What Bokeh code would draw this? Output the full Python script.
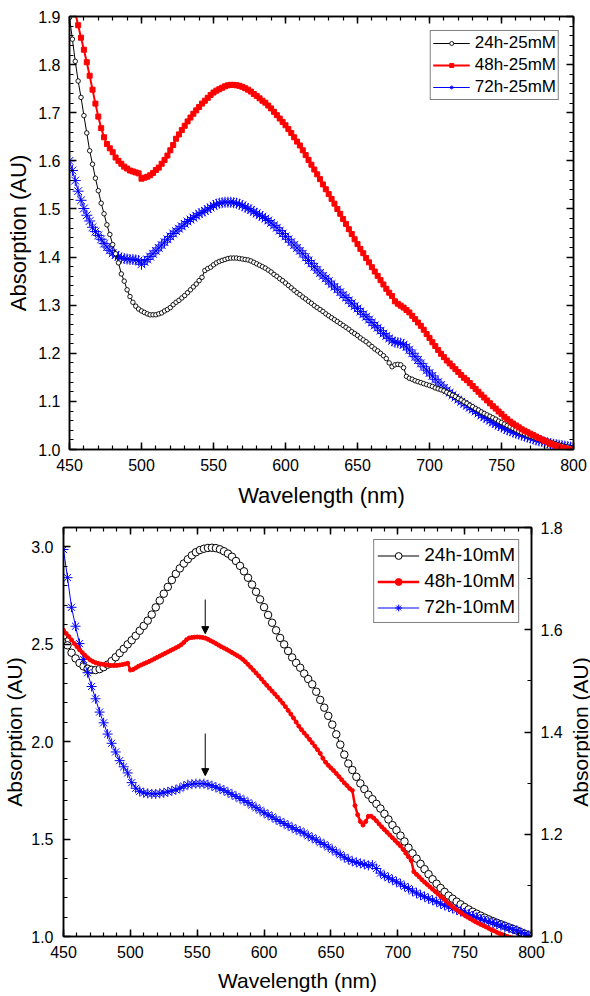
from bokeh.plotting import figure
from bokeh.models import (Range1d, LinearAxis, SingleIntervalTicker, PrintfTickFormatter, FixedTicker,
                          CustomJSTickFormatter, Legend, LegendItem, Arrow, NormalHead)
from bokeh.layouts import column, row
from bokeh.embed import file_html
from bokeh.resources import INLINE

FONT = "Liberation Sans"

# ---------------- data: top panel (25 mM), 2 nm steps from 450 nm ----------------
TOP_START, TOP_STEP = 450, 2
top_24h = [
    1.898, 1.853, 1.807, 1.766, 1.732, 1.694, 1.658, 1.621, 1.593, 1.564,
    1.538, 1.512, 1.490, 1.467, 1.447, 1.426, 1.407, 1.388, 1.365, 1.350,
    1.332, 1.318, 1.306, 1.298, 1.292, 1.288, 1.285, 1.282, 1.280, 1.280,
    1.280, 1.282, 1.284, 1.288, 1.291, 1.295, 1.301, 1.306, 1.310, 1.315,
    1.320, 1.326, 1.332, 1.338, 1.344, 1.351, 1.358, 1.372, 1.376, 1.379,
    1.384, 1.388, 1.391, 1.393, 1.395, 1.397, 1.398, 1.398, 1.398, 1.397,
    1.396, 1.395, 1.394, 1.392, 1.389, 1.386, 1.383, 1.380, 1.377, 1.373,
    1.369, 1.364, 1.360, 1.355, 1.351, 1.346, 1.341, 1.336, 1.331, 1.326,
    1.322, 1.317, 1.313, 1.308, 1.304, 1.299, 1.295, 1.291, 1.287, 1.282,
    1.278, 1.274, 1.270, 1.266, 1.262, 1.258, 1.254, 1.250, 1.245, 1.241,
    1.237, 1.232, 1.228, 1.224, 1.219, 1.214, 1.209, 1.205, 1.200, 1.195,
    1.189, 1.180, 1.172, 1.176, 1.177, 1.176, 1.170, 1.152, 1.148, 1.146,
    1.143, 1.141, 1.139, 1.137, 1.135, 1.133, 1.131, 1.128, 1.126, 1.124,
    1.122, 1.119, 1.116, 1.113, 1.110, 1.106, 1.103, 1.099, 1.096, 1.092,
    1.089, 1.085, 1.082, 1.078, 1.075, 1.072, 1.069, 1.066, 1.063, 1.059,
    1.056, 1.053, 1.050, 1.047, 1.044, 1.041, 1.038, 1.035, 1.033, 1.030,
    1.028, 1.026, 1.024, 1.022, 1.020, 1.018, 1.016, 1.015, 1.013, 1.011,
    1.009, 1.008, 1.006, 1.005, 1.003, 1.002,
]
top_48h = [
    1.970, 1.940, 1.908, 1.882, 1.856, 1.831, 1.805, 1.777, 1.748, 1.719,
    1.692, 1.668, 1.649, 1.635, 1.626, 1.618, 1.607, 1.600, 1.594, 1.588,
    1.584, 1.580, 1.578, 1.576, 1.574, 1.563, 1.565, 1.567, 1.570, 1.575,
    1.581, 1.586, 1.594, 1.602, 1.611, 1.622, 1.633, 1.646, 1.655, 1.664,
    1.673, 1.682, 1.690, 1.698, 1.705, 1.712, 1.719, 1.725, 1.731, 1.737,
    1.742, 1.746, 1.749, 1.752, 1.755, 1.757, 1.758, 1.758, 1.757, 1.756,
    1.754, 1.751, 1.748, 1.744, 1.739, 1.735, 1.730, 1.725, 1.721, 1.715,
    1.709, 1.702, 1.695, 1.688, 1.681, 1.674, 1.666, 1.658, 1.649, 1.640,
    1.632, 1.622, 1.612, 1.602, 1.592, 1.582, 1.572, 1.562, 1.551, 1.541,
    1.531, 1.521, 1.511, 1.500, 1.490, 1.479, 1.469, 1.458, 1.448, 1.437,
    1.427, 1.417, 1.408, 1.398, 1.389, 1.379, 1.370, 1.361, 1.352, 1.343,
    1.334, 1.326, 1.319, 1.308, 1.303, 1.299, 1.295, 1.290, 1.285, 1.278,
    1.271, 1.264, 1.257, 1.249, 1.240, 1.232, 1.223, 1.215, 1.207, 1.199,
    1.192, 1.185, 1.179, 1.173, 1.167, 1.161, 1.155, 1.149, 1.144, 1.138,
    1.132, 1.126, 1.120, 1.114, 1.108, 1.102, 1.096, 1.090, 1.085, 1.079,
    1.074, 1.068, 1.063, 1.058, 1.054, 1.050, 1.046, 1.042, 1.039, 1.036,
    1.033, 1.030, 1.027, 1.024, 1.021, 1.018, 1.015, 1.012, 1.010, 1.008,
    1.006, 1.004, 1.003, 1.001, 1.000, 0.999,
]
top_72h = [
    1.600, 1.580, 1.559, 1.537, 1.518, 1.501, 1.487, 1.475, 1.462, 1.453,
    1.445, 1.437, 1.428, 1.421, 1.414, 1.408, 1.404, 1.401, 1.398, 1.397,
    1.396, 1.395, 1.395, 1.394, 1.393, 1.385, 1.390, 1.395, 1.401, 1.407,
    1.413, 1.419, 1.425, 1.431, 1.437, 1.443, 1.449, 1.454, 1.459, 1.464,
    1.469, 1.474, 1.478, 1.482, 1.486, 1.490, 1.493, 1.496, 1.500, 1.503,
    1.507, 1.510, 1.512, 1.513, 1.514, 1.514, 1.514, 1.513, 1.512, 1.510,
    1.507, 1.504, 1.501, 1.498, 1.494, 1.491, 1.487, 1.484, 1.480, 1.476,
    1.471, 1.466, 1.461, 1.455, 1.449, 1.443, 1.437, 1.431, 1.425, 1.419,
    1.413, 1.407, 1.400, 1.393, 1.387, 1.380, 1.373, 1.367, 1.361, 1.356,
    1.350, 1.344, 1.338, 1.333, 1.327, 1.321, 1.316, 1.310, 1.304, 1.298,
    1.293, 1.287, 1.281, 1.276, 1.270, 1.264, 1.258, 1.253, 1.247, 1.241,
    1.236, 1.231, 1.226, 1.223, 1.222, 1.221, 1.218, 1.213, 1.207, 1.200,
    1.193, 1.186, 1.179, 1.172, 1.165, 1.159, 1.153, 1.146, 1.140, 1.134,
    1.128, 1.123, 1.118, 1.113, 1.108, 1.104, 1.099, 1.095, 1.091, 1.087,
    1.083, 1.079, 1.075, 1.071, 1.067, 1.064, 1.060, 1.056, 1.053, 1.050,
    1.047, 1.044, 1.041, 1.039, 1.036, 1.034, 1.032, 1.030, 1.028, 1.026,
    1.024, 1.022, 1.020, 1.018, 1.017, 1.015, 1.014, 1.012, 1.011, 1.010,
    1.009, 1.008, 1.007, 1.006, 1.005, 1.004,
]
top_labels = ["24h-25mM", "48h-25mM", "72h-25mM"]

# ---------------- data: bottom panel (10 mM) ----------------
# 24h and 72h sampled every 3 nm, 48h every 2 nm, all from 450 nm
BOT_START = 450
bot_24h_step = 3
bot_24h = [
    2.545, 2.495, 2.457, 2.428, 2.404, 2.387, 2.375, 2.369, 2.368, 2.373,
    2.383, 2.396, 2.414, 2.434, 2.455, 2.477, 2.500, 2.521, 2.544, 2.570,
    2.595, 2.622, 2.653, 2.690, 2.725, 2.760, 2.795, 2.830, 2.862, 2.890,
    2.915, 2.937, 2.957, 2.973, 2.984, 2.991, 2.995, 2.996, 2.994, 2.988,
    2.978, 2.966, 2.950, 2.928, 2.903, 2.875, 2.842, 2.807, 2.770, 2.731,
    2.691, 2.651, 2.611, 2.572, 2.533, 2.500, 2.466, 2.433, 2.405, 2.380,
    2.350, 2.322, 2.295, 2.257, 2.215, 2.175, 2.133, 2.088, 2.038, 1.985,
    1.934, 1.888, 1.855, 1.820, 1.786, 1.757, 1.728, 1.705, 1.681, 1.657,
    1.630, 1.601, 1.572, 1.546, 1.518, 1.488, 1.456, 1.427, 1.400, 1.373,
    1.346, 1.320, 1.294, 1.271, 1.249, 1.229, 1.210, 1.194, 1.179, 1.165,
    1.151, 1.139, 1.127, 1.117, 1.107, 1.097, 1.088, 1.079, 1.071, 1.063,
    1.055, 1.047, 1.039, 1.031, 1.022, 1.013, 1.005,
]
bot_48h_step = 2
bot_48h = [
    2.572, 2.556, 2.540, 2.523, 2.505, 2.488, 2.472, 2.458, 2.444, 2.431,
    2.420, 2.412, 2.406, 2.402, 2.399, 2.397, 2.395, 2.393, 2.392, 2.391,
    2.392, 2.394, 2.396, 2.399, 2.403, 2.368, 2.371, 2.379, 2.387, 2.394,
    2.400, 2.406, 2.412, 2.419, 2.426, 2.433, 2.440, 2.447, 2.454, 2.461,
    2.468, 2.475, 2.482, 2.489, 2.498, 2.510, 2.524, 2.533, 2.535, 2.537,
    2.538, 2.537, 2.535, 2.532, 2.526, 2.519, 2.512, 2.504, 2.496, 2.488,
    2.481, 2.474, 2.466, 2.458, 2.450, 2.442, 2.434, 2.423, 2.411, 2.397,
    2.382, 2.368, 2.353, 2.338, 2.322, 2.306, 2.290, 2.275, 2.260, 2.245,
    2.230, 2.214, 2.198, 2.180, 2.161, 2.142, 2.122, 2.101, 2.080, 2.062,
    2.045, 2.029, 2.012, 1.995, 1.977, 1.959, 1.940, 1.915, 1.895, 1.879,
    1.865, 1.852, 1.837, 1.821, 1.805, 1.789, 1.775, 1.760, 1.750, 1.672,
    1.625, 1.590, 1.572, 1.590, 1.617, 1.618, 1.608, 1.594, 1.578, 1.563,
    1.549, 1.535, 1.521, 1.507, 1.493, 1.479, 1.465, 1.447, 1.428, 1.409,
    1.390, 1.333, 1.319, 1.306, 1.292, 1.279, 1.267, 1.255, 1.243, 1.231,
    1.219, 1.207, 1.195, 1.183, 1.170, 1.158, 1.147, 1.137, 1.127, 1.118,
    1.109, 1.100, 1.092, 1.084, 1.076, 1.069, 1.062, 1.056, 1.049, 1.042,
    1.035, 1.029, 1.022, 1.016, 1.010, 1.005, 1.000, 0.996, 0.992, 0.988,
    0.984, 0.980, 0.977, 0.974, 0.971, 0.968,
]
bot_72h_step = 3
bot_72h = [  # read on the right-hand axis
    1.757, 1.702, 1.644, 1.607, 1.573, 1.542, 1.516, 1.489, 1.465, 1.439,
    1.418, 1.396, 1.378, 1.361, 1.344, 1.332, 1.320, 1.301, 1.290, 1.284,
    1.281, 1.280, 1.279, 1.279, 1.280, 1.281, 1.283, 1.285, 1.287, 1.290,
    1.294, 1.297, 1.298, 1.299, 1.299, 1.299, 1.297, 1.295, 1.292, 1.289,
    1.286, 1.282, 1.278, 1.274, 1.270, 1.266, 1.262, 1.257, 1.252, 1.247,
    1.242, 1.238, 1.234, 1.229, 1.225, 1.221, 1.217, 1.213, 1.209, 1.206,
    1.202, 1.197, 1.193, 1.189, 1.184, 1.180, 1.175, 1.170, 1.165, 1.160,
    1.155, 1.151, 1.147, 1.145, 1.143, 1.141, 1.139, 1.140, 1.133, 1.124,
    1.119, 1.115, 1.111, 1.107, 1.103, 1.098, 1.094, 1.089, 1.085, 1.081,
    1.078, 1.074, 1.071, 1.068, 1.064, 1.061, 1.058, 1.055, 1.052, 1.049,
    1.046, 1.043, 1.040, 1.037, 1.034, 1.031, 1.029, 1.027, 1.024, 1.022,
    1.019, 1.017, 1.014, 1.012, 1.008, 1.005, 1.002,
]
bot_labels = ["24h-10mM", "48h-10mM", "72h-10mM"]

# arrows marking the ~556 nm band (left-axis units)
arrow_wl = 556
arrow1 = (2.73, 2.555)
arrow2 = (2.042, 1.826)

X_LABEL = "Wavelength (nm)"
Y_LABEL = "Absorption (AU)"


def xs(start, step, vals):
    return [start + step * i for i in range(len(vals))]


def style_axis(ax, ticker, fmt, tick_fs="16px", label_fs="22px", standoff=9, label_standoff=4,
               show_labels=True):
    ax.ticker = ticker
    ax.major_tick_in = 7
    ax.major_tick_out = 0
    ax.minor_tick_in = 4
    ax.minor_tick_out = 0
    ax.axis_line_color = "black"
    ax.axis_line_width = 1.5
    ax.major_tick_line_color = "black"
    ax.major_tick_line_width = 1.5
    ax.minor_tick_line_color = "black"
    ax.minor_tick_line_width = 1.2
    if show_labels:
        ax.formatter = PrintfTickFormatter(format=fmt)
        ax.major_label_text_font = FONT
        ax.major_label_text_font_size = tick_fs
        ax.major_label_text_color = "black"
        ax.major_label_standoff = standoff
        ax.axis_label_text_font = FONT
        ax.axis_label_text_font_size = label_fs
        ax.axis_label_text_font_style = "normal"
        ax.axis_label_text_color = "black"
        ax.axis_label_standoff = label_standoff
    else:
        ax.formatter = CustomJSTickFormatter(code="return ''")
        ax.major_label_text_font_size = "0px"
        ax.major_label_standoff = 0


def make_legend(items, fs, glyph_w, glyph_h, item_h, pad, spacing, margin):
    lg = Legend(items=items, location="top_right")
    lg.label_text_font = FONT
    lg.label_text_font_size = fs
    lg.label_text_color = "black"
    lg.glyph_width = glyph_w
    lg.glyph_height = glyph_h
    lg.label_height = item_h
    lg.label_standoff = 5
    lg.padding = pad
    lg.spacing = spacing
    lg.margin = margin
    lg.border_line_color = "black"
    lg.border_line_width = 1
    lg.background_fill_color = "white"
    lg.background_fill_alpha = 1.0
    return lg


# ======================= top panel =======================
p1 = figure(frame_width=504, frame_height=433, x_range=Range1d(450, 800), y_range=Range1d(1.0, 1.9001),
            min_border_left=69, min_border_right=17, min_border_top=16, min_border_bottom=61,
            output_backend="svg", toolbar_location=None)
p1.grid.grid_line_color = None
p1.outline_line_color = "black"
p1.outline_line_width = 1.5
p1.background_fill_color = "white"
p1.border_fill_color = "white"

style_axis(p1.xaxis[0], SingleIntervalTicker(interval=50, num_minor_ticks=5), "%d",
           label_fs="22px", standoff=9, label_standoff=9)
p1.xaxis[0].axis_label = X_LABEL
style_axis(p1.yaxis[0], SingleIntervalTicker(interval=0.1, num_minor_ticks=5), "%.1f",
           label_fs="22px", standoff=9, label_standoff=4)
p1.yaxis[0].axis_label = Y_LABEL
top_ax = LinearAxis()
style_axis(top_ax, SingleIntervalTicker(interval=50, num_minor_ticks=5), "%d", show_labels=False)
p1.add_layout(top_ax, "above")
right_ax = LinearAxis()
style_axis(right_ax, SingleIntervalTicker(interval=0.1, num_minor_ticks=5), "%.1f", show_labels=False)
p1.add_layout(right_ax, "right")

x_t = xs(TOP_START, TOP_STEP, top_24h)
b_l = p1.line(xs(TOP_START, TOP_STEP, top_72h), top_72h, line_color="blue", line_width=1)
b_s = p1.scatter(xs(TOP_START, TOP_STEP, top_72h), top_72h, marker="asterisk", size=11,
                 line_color="blue", line_width=1)
k_l = p1.line(x_t, top_24h, line_color="black", line_width=1)
k_s = p1.scatter(x_t, top_24h, marker="circle", size=4.5, line_color="black", fill_color="white",
                 line_width=0.9)
r_l = p1.line(xs(TOP_START, TOP_STEP, top_48h), top_48h, line_color="red", line_width=2)
r_s = p1.scatter(xs(TOP_START, TOP_STEP, top_48h), top_48h, marker="square", size=5,
                 line_color="red", fill_color="red")

leg1 = make_legend([LegendItem(label=top_labels[0], renderers=[k_l, k_s]),
                    LegendItem(label=top_labels[1], renderers=[r_l, r_s]),
                    LegendItem(label=top_labels[2], renderers=[b_l, b_s])],
                   "17px", 37, 10, 20, 2, 2, 14)
p1.add_layout(leg1)

# ======================= bottom panel =======================
p2 = figure(frame_width=468, frame_height=409, x_range=Range1d(450, 800), y_range=Range1d(1.0, 3.1),
            min_border_left=63, min_border_right=33, min_border_top=17, min_border_bottom=59,
            output_backend="svg", toolbar_location=None)
p2.extra_y_ranges = {"right": Range1d(1.0, 1.8001)}
p2.grid.grid_line_color = None
p2.outline_line_color = "black"
p2.outline_line_width = 1.5
p2.background_fill_color = "white"
p2.border_fill_color = "white"

style_axis(p2.xaxis[0], SingleIntervalTicker(interval=50, num_minor_ticks=5), "%d",
           label_fs="21px", standoff=9, label_standoff=8)
p2.xaxis[0].axis_label = X_LABEL
style_axis(p2.yaxis[0], SingleIntervalTicker(interval=0.5, num_minor_ticks=5), "%.1f",
           label_fs="21px", standoff=10, label_standoff=2)
p2.yaxis[0].axis_label = Y_LABEL
top_ax2 = LinearAxis()
style_axis(top_ax2, SingleIntervalTicker(interval=50, num_minor_ticks=5), "%d", show_labels=False)
p2.add_layout(top_ax2, "above")
right_ax2 = LinearAxis(y_range_name="right")
style_axis(right_ax2, SingleIntervalTicker(interval=0.2, num_minor_ticks=2), "%.1f",
           label_fs="21px", standoff=9, label_standoff=2)
p2.add_layout(right_ax2, "right")

x_k = xs(BOT_START, bot_24h_step, bot_24h)
x_r = xs(BOT_START, bot_48h_step, bot_48h)
x_b = xs(BOT_START, bot_72h_step, bot_72h)
k2_l = p2.line(x_k, bot_24h, line_color="black", line_width=1)
k2_s = p2.scatter(x_k, bot_24h, marker="circle", size=7.5, line_color="black", fill_color="white",
                  line_width=1)
b2_l = p2.line(x_b, bot_72h, line_color="blue", line_width=1, y_range_name="right")
b2_s = p2.scatter(x_b, bot_72h, marker="asterisk", size=10, line_color="blue", line_width=1,
                  y_range_name="right")
r2_l = p2.line(x_r, bot_48h, line_color="red", line_width=2.5)
r2_s = p2.scatter(x_r, bot_48h, marker="circle", size=4, line_color="red", fill_color="red")

for (ys, ye) in (arrow1, arrow2):
    p2.add_layout(Arrow(end=NormalHead(size=7, fill_color="black", line_color="black", line_width=1),
                        x_start=arrow_wl, y_start=ys, x_end=arrow_wl, y_end=ye,
                        line_color="black", line_width=1))

leg2 = make_legend([LegendItem(label=bot_labels[0], renderers=[k2_l, k2_s]),
                    LegendItem(label=bot_labels[1], renderers=[r2_l, r2_s]),
                    LegendItem(label=bot_labels[2], renderers=[b2_l, b2_s])],
                   "19px", 42, 17, 24, 3, 2, 12)
p2.add_layout(leg2)

# narrow companion figure carrying the right-hand axis title (reads bottom-to-top)
p3 = figure(frame_width=1, frame_height=409, x_range=Range1d(0, 1), y_range=Range1d(0, 1),
            min_border_left=24, min_border_right=1, min_border_top=17, min_border_bottom=59,
            output_backend="svg", toolbar_location=None)
p3.grid.grid_line_color = None
p3.outline_line_color = None
p3.xaxis.visible = False
ya = p3.yaxis[0]
ya.ticker = FixedTicker(ticks=[])
ya.formatter = CustomJSTickFormatter(code="return ''")
ya.major_label_text_font_size = "0px"
ya.major_label_standoff = 0
ya.major_tick_in = 0
ya.major_tick_out = 0
ya.minor_tick_in = 0
ya.minor_tick_out = 0
ya.axis_line_color = None
ya.axis_label = Y_LABEL
ya.axis_label_text_font = FONT
ya.axis_label_text_font_size = "21px"
ya.axis_label_text_font_style = "normal"
ya.axis_label_text_color = "black"
ya.axis_label_standoff = 0

layout = column(p1, row(p2, p3))
open("out.html", "w").write(file_html(layout, INLINE))
